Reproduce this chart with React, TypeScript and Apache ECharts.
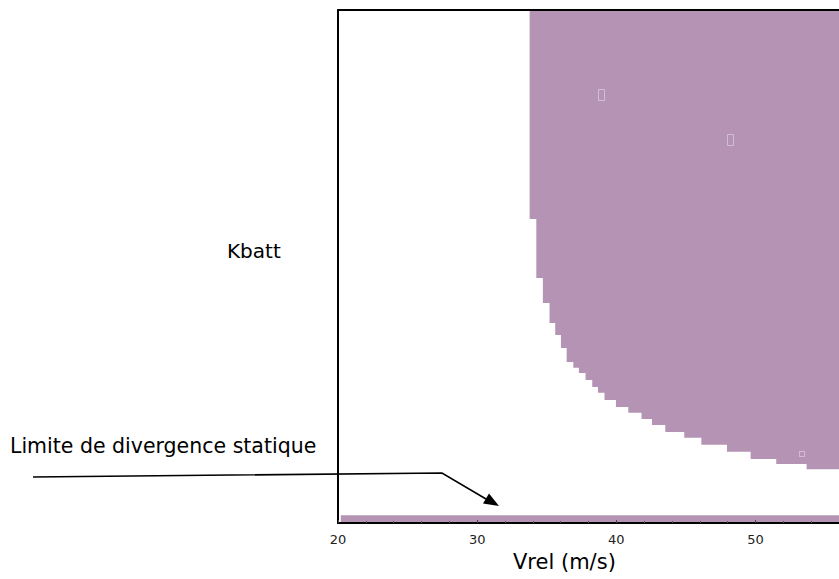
import React, { useEffect, useRef } from "react";
import * as echarts from "echarts";

// Stability boundary (lower edge of the unstable region)
const boundaryVrel = [33.77, 34.25, 34.72, 35.2, 35.61, 36.02, 36.43, 36.91, 37.31, 37.79, 38.27, 38.68, 39.15, 39.97, 40.86, 41.81, 42.56, 43.52, 44.88, 46.11, 47.95, 49.65, 51.49, 53.67, 56];
const boundaryKbatt = [47.4, 38.2, 34.3, 31.2, 29.3, 27.3, 25.1, 24.2, 23.4, 22.3, 21.2, 20.3, 19.2, 18.1, 17.2, 16.2, 15.3, 14.2, 13.3, 12.2, 11.1, 10.0, 9.2, 8.4, 8.4];

// Static divergence limit band
const divergenceVrel = [20.2, 56];
const divergenceKbatt = [1.2, 1.2];

const xTicks = [20, 30, 40, 50];
const X_MIN = 20;
const X_MAX = 56;
const Y_MIN = 0;
const Y_MAX = 80;

const PURPLE = "#b593b4";
const FONT = "Verdana, 'DejaVu Sans', sans-serif";
const GLYPH = "rgba(255,255,255,0.4)";

export default function App() {
  const ref = useRef<HTMLDivElement>(null);
  useEffect(() => {
    if (!ref.current) return;
    const chart = echarts.init(ref.current, undefined, { renderer: "svg" });
    const boundary = boundaryVrel.map((x, i) => [x, boundaryKbatt[i]]);
    const band = divergenceVrel.map((x, i) => [x, divergenceKbatt[i]]);
    const axisLineStyle = { color: "#000", width: 2 };
    chart.setOption({
      animation: false,
      backgroundColor: "#fff",
      grid: { left: 338, top: 10, bottom: 56, right: -27, containLabel: false },
      xAxis: [
        {
          type: "value",
          min: X_MIN,
          max: X_MAX,
          interval: 10,
          z: 10,
          axisLine: { show: true, onZero: false, lineStyle: axisLineStyle },
          axisTick: { show: true, inside: true, length: 3, lineStyle: { color: "#444" } },
          minorTick: { show: true, splitNumber: 5, length: 2, lineStyle: { color: "#555" } },
          splitLine: { show: false },
          axisLabel: {
            show: true,
            margin: 10,
            fontSize: 13,
            color: "#222",
            fontFamily: FONT,
            showMaxLabel: false,
            formatter: (v: number) => (xTicks.includes(v) ? String(v) : ""),
          },
        },
        {
          type: "value",
          position: "top",
          min: X_MIN,
          max: X_MAX,
          z: 10,
          axisLine: { show: true, onZero: false, lineStyle: axisLineStyle },
          axisTick: { show: false },
          axisLabel: { show: false },
          splitLine: { show: false },
        },
      ],
      yAxis: {
        type: "value",
        min: Y_MIN,
        max: Y_MAX,
        z: 10,
        axisLine: { show: true, onZero: false, lineStyle: axisLineStyle },
        axisTick: { show: false },
        axisLabel: { show: false },
        splitLine: { show: false },
      },
      series: [
        {
          type: "line",
          data: boundary,
          step: "end",
          symbol: "none",
          lineStyle: { width: 0 },
          areaStyle: { color: PURPLE, opacity: 1, origin: "end" },
          silent: true,
        },
        {
          type: "line",
          data: band,
          symbol: "none",
          lineStyle: { width: 0 },
          areaStyle: { color: PURPLE, opacity: 1, origin: "start" },
          silent: true,
        },
      ],
      graphic: [
        {
          type: "text",
          left: 227,
          top: 241,
          style: { text: "Kbatt", fontSize: 20, fontFamily: FONT, fill: "#000" },
        },
        {
          type: "text",
          left: 513,
          top: 551,
          style: { text: "Vrel (m/s)", fontSize: 21, fontFamily: FONT, fill: "#000" },
        },
        {
          type: "text",
          left: 10,
          top: 435,
          style: { text: "Limite de divergence statique", fontSize: 20.5, fontFamily: FONT, fill: "#000" },
        },
        {
          type: "polyline",
          z: 20,
          shape: { points: [[33, 477], [442, 473], [486, 499]] },
          style: { stroke: "#000", lineWidth: 1.6, fill: null },
        },
        {
          type: "polygon",
          z: 20,
          shape: { points: [[499, 506], [483, 503.5], [489, 493.5]] },
          style: { fill: "#000" },
        },
        { type: "rect", z: 20, shape: { x: 598.5, y: 89.5, width: 6, height: 11 }, style: { fill: null, stroke: GLYPH, lineWidth: 1 } },
        { type: "rect", z: 20, shape: { x: 727.5, y: 134.5, width: 6, height: 11 }, style: { fill: null, stroke: GLYPH, lineWidth: 1 } },
        { type: "rect", z: 20, shape: { x: 799.5, y: 451.5, width: 5, height: 5 }, style: { fill: null, stroke: GLYPH, lineWidth: 1 } },
      ],
    });
    return () => chart.dispose();
  }, []);
  return <div ref={ref} style={{ width: 839, height: 579, position: "absolute", left: 0, top: 0 }} />;
}
